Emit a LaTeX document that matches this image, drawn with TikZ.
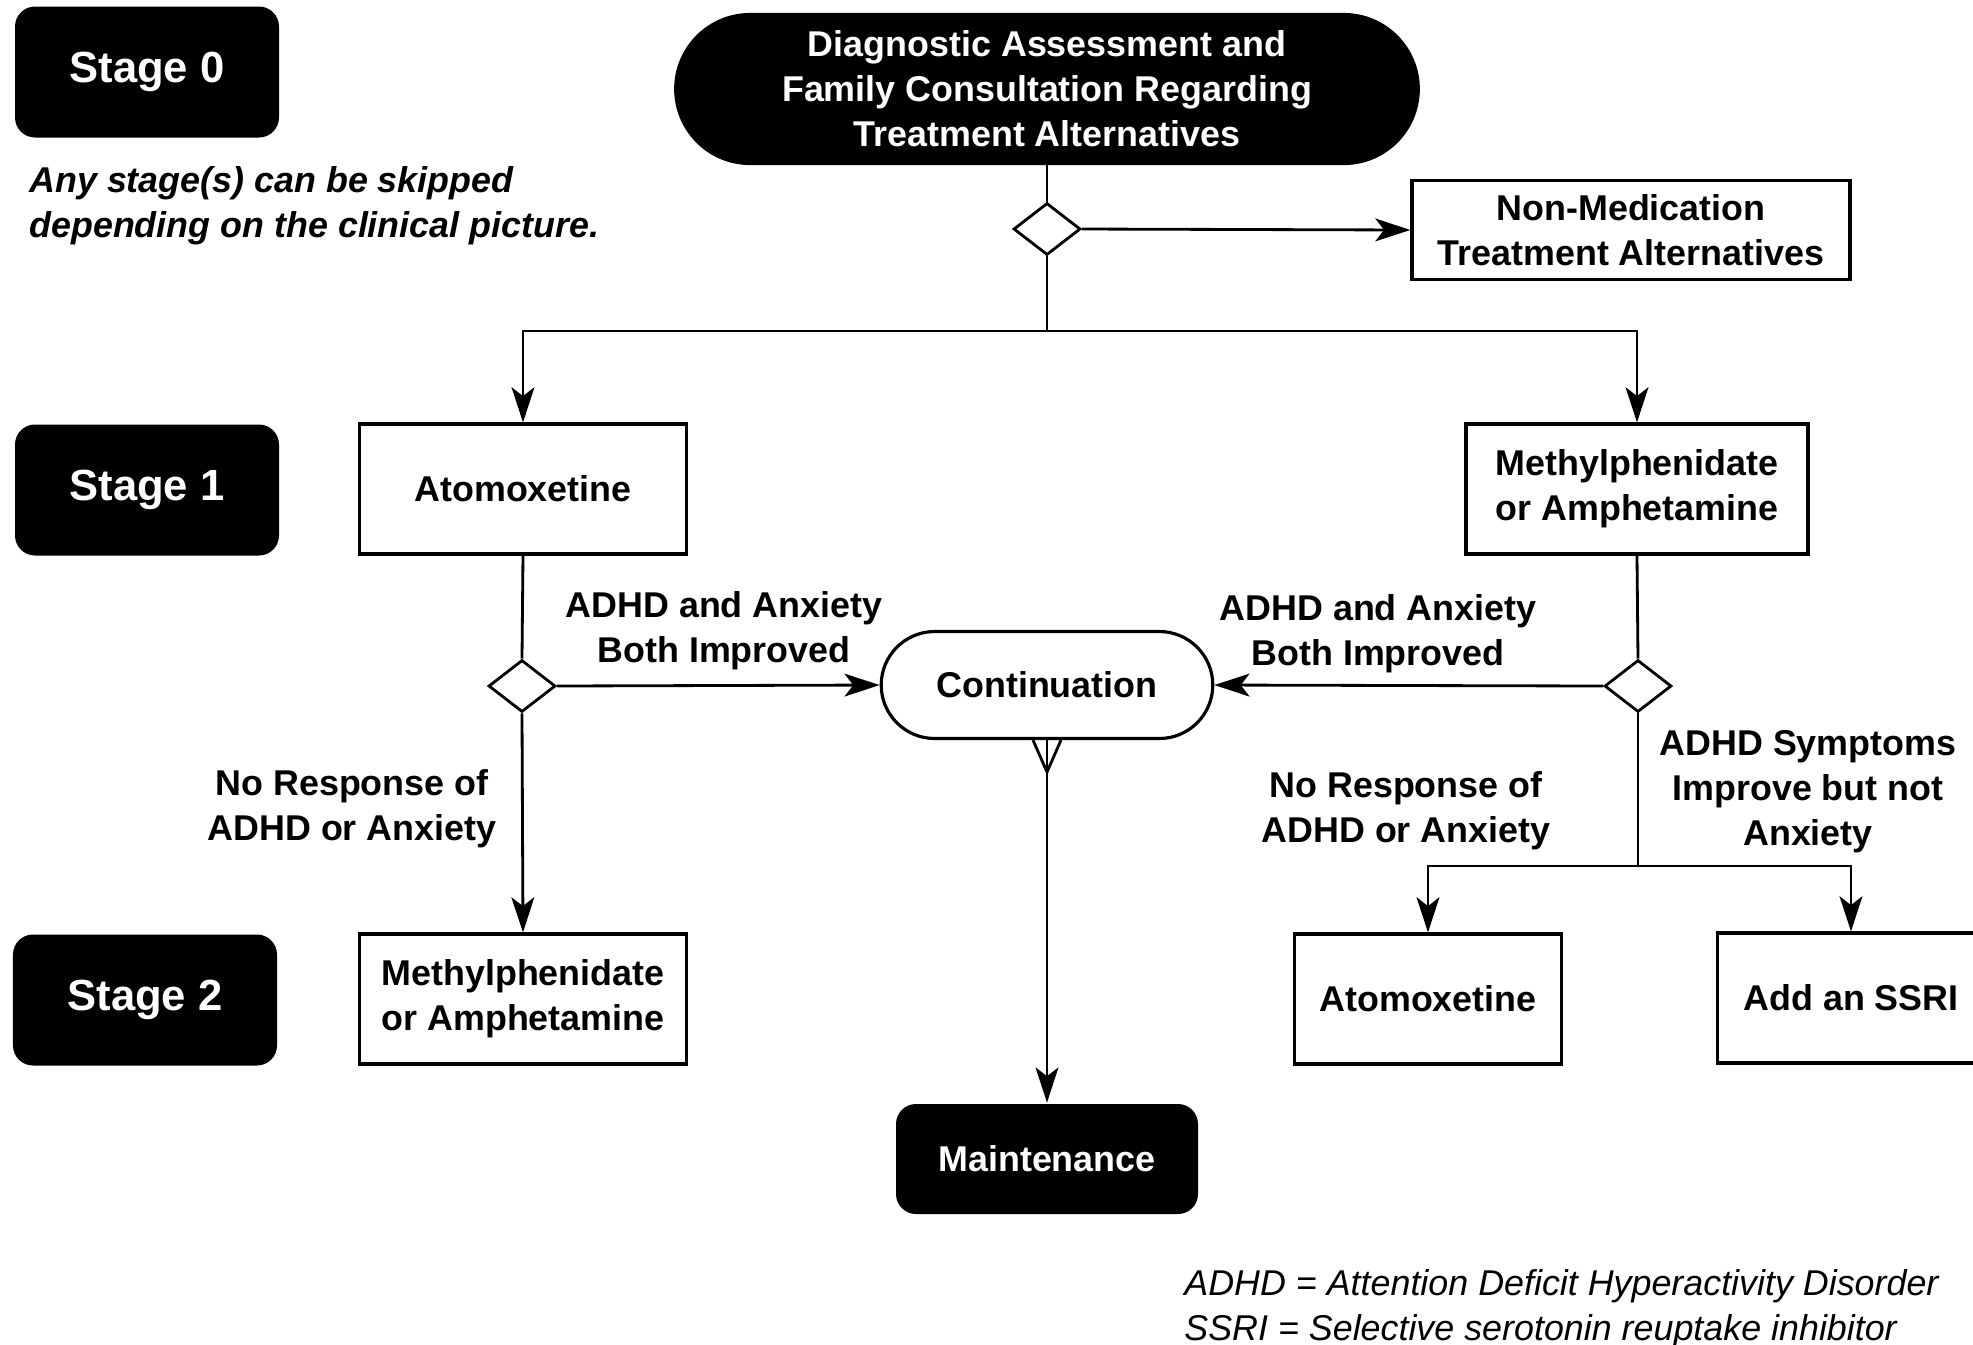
\documentclass[tikz,border=0pt]{standalone}
\usepackage{fontspec}
\setmainfont{Liberation Sans}
\usepackage{tikz}
\usetikzlibrary{arrows.meta,shapes.geometric,shapes.misc}

\tikzset{
  stagebox/.style={fill=black,rounded corners=0.2cm,text=white,minimum width=2.64cm,minimum height=1.31cm,font=\fontsize{12.4}{15}\selectfont\bfseries},
  drugbox/.style={draw,fill=white,line width=0.9pt,minimum height=1.30cm,align=center},
  choice/.style={diamond,draw,fill=white,line width=0.8pt,minimum width=0.67cm,minimum height=0.52cm,inner sep=0pt},
  pill/.style={rounded rectangle,draw,line width=0.9pt,align=center},
  cond/.style={align=center}
}

\begin{document}
\begin{tikzpicture}[>={Stealth[length=10pt,width=6.5pt,inset=2.5pt]},line width=0.8pt,
  font=\fontsize{10.2}{12.8}\selectfont\bfseries]
  \clip (0,0) rectangle (19.73,-13.44);

  % stages
  \node[stagebox] (stage0) at (1.47,-0.72) {Stage 0};
  \node[stagebox] (stage1) at (1.47,-4.90) {Stage 1};
  \node[stagebox] (stage2) at (1.45,-10.00) {Stage 2};
  \node[anchor=west,align=left,inner sep=0pt,font=\fontsize{10.2}{12.8}\selectfont\bfseries\itshape] (skipnote) at (0.28,-2.06)
    {Any stage(s) can be skipped\\depending on the clinical picture.};

  \node[pill,fill=black,text=white,minimum width=7.66cm,minimum height=1.49cm] (diag) at (10.47,-0.89)
    {Diagnostic Assessment and\\Family Consultation Regarding\\Treatment Alternatives};
  \node[choice] (d0) at (10.47,-2.29) {};
  \node[drugbox,minimum width=4.38cm,minimum height=0.99cm] (nonmed) at (16.31,-2.30)
    {Non-Medication\\Treatment Alternatives};
  \coordinate (split0) at (10.47,-3.31);

  \node[drugbox,minimum width=3.27cm] (atomo1) at (5.23,-4.89) {Atomoxetine};
  \node[drugbox,minimum width=3.42cm] (methyl1) at (16.37,-4.89) {Methylphenidate\\or Amphetamine};

  \node[choice] (dleft) at (5.22,-6.86) {};
  \node[choice] (dright) at (16.38,-6.86) {};
  \node[pill,fill=white,minimum width=3.55cm,minimum height=1.07cm] (cont) at (10.47,-6.85) {Continuation};

  \node[cond] (bothL) at (7.24,-6.31) {ADHD and Anxiety\\Both Improved};
  \node[cond] (bothR) at (13.78,-6.34) {ADHD and Anxiety\\Both Improved};
  \node[cond] (noneL) at (3.52,-8.09) {No Response of\\ADHD or Anxiety};
  \node[cond] (noneR) at (14.06,-8.11) {No Response of\\ADHD or Anxiety};
  \node[cond] (partR) at (18.08,-7.92) {ADHD Symptoms\\Improve but not\\Anxiety};
  \coordinate (split2) at (16.38,-8.66);

  \node[drugbox,minimum width=3.27cm] (methyl2) at (5.23,-9.99) {Methylphenidate\\or Amphetamine};
  \node[drugbox,minimum width=2.67cm] (atomo2) at (14.28,-9.99) {Atomoxetine};
  \node[drugbox,minimum width=2.67cm] (ssri) at (18.51,-9.98) {Add an SSRI};

  \node[fill=black,rounded corners=0.2cm,text=white,minimum width=3.02cm,minimum height=1.10cm] (maint) at (10.47,-11.59) {Maintenance};

  \node[anchor=west,align=left,inner sep=0pt,font=\fontsize{10.2}{12.8}\selectfont\itshape] (abbrev) at (11.83,-13.09)
    {ADHD = Attention Deficit Hyperactivity Disorder\\SSRI = Selective serotonin reuptake inhibitor};

  % connectors
  \draw (diag.south) -- (d0.north);
  \draw[->] (d0.east) -- (nonmed.west);
  \draw (d0.south) -- (split0);
  \draw[->] (split0) -| (atomo1.north);
  \draw[->] (split0) -| (methyl1.north);

  \draw (atomo1.south) -- (dleft.north);
  \draw[->] (dleft.east) -- (cont.west);
  \draw[->] (dleft.south) -- (methyl2.north);

  \draw (methyl1.south) -- (dright.north);
  \draw[->] (dright.west) -- (cont.east);
  \draw (dright.south) -- (split2);
  \draw[->] (split2) -| (atomo2.north);
  \draw[->] (split2) -| (ssri.north);

  \draw[->] (cont.south) -- (maint.north);
  \draw ([xshift=-0.14cm]cont.south) -- ++(0.14,-0.32) -- ++(0.14,0.32);
\end{tikzpicture}
\end{document}
